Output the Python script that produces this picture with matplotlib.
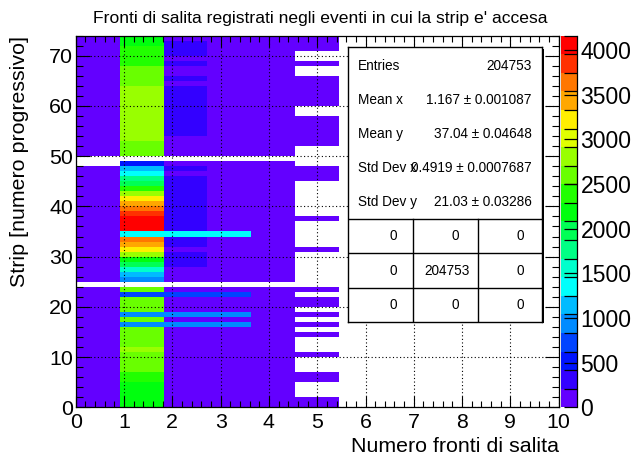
import numpy as np
import matplotlib
matplotlib.use("Agg")
import matplotlib.pyplot as plt
from matplotlib.colors import ListedColormap, BoundaryNorm
from matplotlib.patches import Rectangle
from matplotlib.ticker import MultipleLocator

plt.rcParams['font.family'] = ['Liberation Sans', 'DejaVu Sans']

W, H = 638, 459

# ---------------------------------------------------------------- data
title = "Fronti di salita registrati negli eventi in cui la strip e' accesa"
x_title = "Numero fronti di salita"
y_title = "Strip [numero progressivo]"

# binning: 11 bins on x over [0, 10], one bin per strip on y over [0, 74]
x_edges = np.linspace(0, 10, 12)
y_edges = np.arange(0, 75)

_ = None  # empty bin
# counts per strip (strip 0 first) for each rising-edge bin
counts_bin0 = [60, 58, 61, 60, 59, 62, 60, 57, 60, 61,
               59, 60, 62, 58, 60, 61, 60, 59, 60, 62,
               61, 60, 58, 60, _, 61, 60, 59, 62, 60,
               60, 58, 61, 60, 59, 60, 62, 60, 58, 61,
               60, 59, 61, 60, 62, 58, 60, 61, _, _,
               60, 61, 59, 60, 62, 60, 58, 61, 60, 59,
               61, 60, 58, 62, 60, 59, 61, 60, 60, 58,
               61, 60, 59, 62]
counts_bin1 = [2180, 2200, 2170, 2150, 2210, 2390, 2420, 2600, 2620, 2580,
               2640, 2810, 2590, 2610, 2570, 2630, 950, 2600, 940, 2590,
               2620, 2610, 720, 2580, _, 930, 1150, 1560, 1980, 2190,
               2810, 3220, 3430, 3640, 1350, 4050, 4160, 4080, 3850, 3640,
               3430, 3220, 2810, 2390, 1980, 1770, 1350, 1150, 520, _,
               2600, 2610, 2620, 2800, 2820, 2790, 2810, 2830, 2800, 2780,
               2810, 2800, 2790, 2820, 2600, 2610, 2590, 2620, 2390, 2400,
               2380, 2410, 2190, 2200]
counts_bin2 = [72, 68, 75, 70, 66, 71, 69, 73, 70, 68,
               70, 71, 69, 72, 70, 68, 950, 75, 960, 70,
               72, 69, 710, 74, _, 71, 73, 70, 310, 320,
               305, 80, 315, 300, 1340, 330, 340, 335, 325, 320,
               330, 315, 320, 310, 305, 300, 90, 290, 85, _,
               80, 82, 85, 90, 280, 300, 310, 305, 300, 295,
               290, 300, 295, 285, 95, 270, 100, 95, 260, 110,
               265, 270, 260, 120]
counts_bin3 = [40, 42, 38, 41, 40, 39, 43, 40, 41, 38,
               40, 42, 39, 41, 40, 38, 955, 41, 945, 40,
               39, 42, 715, 40, _, 41, 40, 38, 42, 39,
               40, 41, 43, 39, 1345, 40, 42, 41, 38, 40,
               39, 41, 40, 42, 38, 40, 41, 39, 40, _,
               41, 40, 39, 42, 40, 38, 41, 40, 39, 42,
               40, 41, 38, 40, 42, 39, 41, 40, 38, 40,
               41, 39, 42, 40]
counts_bin4 = [20, 21, 19, 22, 20, 18, 21, 20, 19, 22,
               20, 21, 18, 20, 22, 19, 20, 21, 20, 18,
               22, 20, 19, 21, _, 20, 18, 21, 20, 22,
               19, 20, 21, 18, 20, 22, 19, 21, 20, 20,
               18, 21, 22, 19, 20, 21, 20, 18, 21, _,
               20, 19, 22, 20, 21, 18, 20, 21, 19, 22,
               20, 20, 18, 21, 19, 22, 20, 21, 20, 18,
               21, 20, 19, 22]
counts_bin5 = [8, 7, _, _, _, 9, 8, _, _, _,
               7, _, _, _, 8, _, 9, _, 8, _,
               7, 8, _, 9, _, _, _, _, _, _,
               _, 8, _, _, _, _, _, 7, _, _,
               _, _, _, _, _, 8, 9, 7, _, _,
               _, _, 8, 7, 9, 8, 8, 7, _, _,
               8, 9, 7, 8, 8, 9, _, _, 7, _,
               _, 8, 9, 8]
filled_bins = [counts_bin0, counts_bin1, counts_bin2,
               counts_bin3, counts_bin4, counts_bin5]

stat_names = ["Entries", "Mean x", "Mean y", "Std Dev x", "Std Dev y"]
stat_values = ["204753", "1.167 \u00b1 0.001087", "37.04 \u00b1 0.04648",
               "0.4919 \u00b1 0.0007687", "21.03 \u00b1 0.03286"]
# under/overflow table of the stats box (rows top to bottom)
flow_table = [[0, 0, 0],
              [0, 204753, 0],
              [0, 0, 0]]

z_ticks = [0, 500, 1000, 1500, 2000, 2500, 3000, 3500, 4000]

# 20-level rainbow palette (violet -> red)
palette = ["#6300ff", "#3300ff", "#0014ff", "#0044ff", "#008bff",
           "#00bbff", "#00fffc", "#00ffcc", "#00ff85", "#00ff55",
           "#00ff0e", "#22ff00", "#69ff00", "#99ff00", "#e0ff00",
           "#ffee00", "#ffa700", "#ff7700", "#ff3000", "#ff0000"]

# ---------------------------------------------------------------- grid
n_y = len(y_edges) - 1
n_x = len(x_edges) - 1
Z = np.full((n_y, n_x), np.nan)
for i, col in enumerate(filled_bins):
    Z[:, i] = [np.nan if v is None else v for v in col]
Zm = np.ma.masked_invalid(Z)

zmax = np.nanmax(Z)
cmap = ListedColormap(palette)
cmap.set_over(palette[-1])
cmap.set_bad((1, 1, 1, 0))
norm = BoundaryNorm(np.linspace(0, zmax, len(palette) + 1), len(palette))


def fx(x):
    return x / W


def fy(y):
    return 1 - y / H


fig = plt.figure(figsize=(W / 100, H / 100), dpi=100)
fig.patch.set_facecolor('white')

ax_l, ax_r, ax_t, ax_b = 75.7, 558.7, 35.6, 407.3
ax = fig.add_axes([fx(ax_l), fy(ax_b), fx(ax_r) - fx(ax_l), fy(ax_t) - fy(ax_b)])
mesh = ax.pcolormesh(x_edges, y_edges, Zm, cmap=cmap, norm=norm,
                     shading='flat', antialiased=False, edgecolors='none')
ax.set_xlim(x_edges[0], x_edges[-1])
ax.set_ylim(y_edges[0], y_edges[-1])

ax.xaxis.set_major_locator(MultipleLocator(1))
ax.xaxis.set_minor_locator(MultipleLocator(0.2))
ax.yaxis.set_major_locator(MultipleLocator(10))
ax.yaxis.set_minor_locator(MultipleLocator(2))
ax.tick_params(axis='x', which='major', direction='in', length=7.9, width=0.8,
               top=True, bottom=True, labelsize=15.4, pad=4.0)
ax.tick_params(axis='x', which='minor', direction='in', length=4.0, width=0.8,
               top=True, bottom=True)
ax.tick_params(axis='y', which='major', direction='in', length=10.4, width=0.8,
               left=True, right=True, labelsize=15.4, pad=1.7)
ax.tick_params(axis='y', which='minor', direction='in', length=5.2, width=0.8,
               left=True, right=True)
for s in ax.spines.values():
    s.set_linewidth(0.9)
ax.grid(True, which='major', color='black', linestyle=(0, (1, 2.2)),
        linewidth=0.8)

# palette axis
cax = fig.add_axes([fx(561), fy(ax_b), fx(577) - fx(561), fy(ax_t) - fy(ax_b)])
cb = fig.colorbar(mesh, cax=cax, ticks=z_ticks)
cb.outline.set_visible(False)
cax.tick_params(axis='y', which='both', direction='in', length=9.5, width=0.9,
                right=True, left=False, labelsize=16.5, pad=2.5)
cax.plot([1, 1], [0, 1], transform=cax.transAxes, color='black', lw=0.9,
         clip_on=False)

# titles
fig.text(fx(320), fy(18), title, ha='center', va='center', fontsize=12.6)
fig.text(fx(ax_r), fy(452), x_title, ha='right', va='baseline', fontsize=15.4)
fig.text(fx(20), fy(ax_t), y_title, ha='center', va='top', rotation=90,
         fontsize=15.4)

# statistics box
bx0, by0, bx1, by1 = 348.3, 47.3, 542.3, 321.7
shadow = Rectangle((fx(bx0) + 1.5 / W, fy(by1) - 1.5 / H),
                   fx(bx1) - fx(bx0), fy(by0) - fy(by1),
                   transform=fig.transFigure, facecolor='black',
                   edgecolor='none', zorder=4)
fig.add_artist(shadow)
sax = fig.add_axes([fx(bx0), fy(by1), fx(bx1) - fx(bx0), fy(by0) - fy(by1)],
                   zorder=5)
sax.set_xlim(bx0, bx1)
sax.set_ylim(by1, by0)
sax.set_xticks([])
sax.set_yticks([])
sax.set_facecolor('white')
for s in sax.spines.values():
    s.set_linewidth(1.0)

row_y = [65.7, 100.0, 134.0, 168.3, 202.3]
for name, val, yy in zip(stat_names, stat_values, row_y):
    sax.text(357.7, yy, name, ha='left', va='center', fontsize=9.8)
    sax.text(531.7, yy, val, ha='right', va='center', fontsize=9.8)

sep_y = [219.0, 253.3, 287.7]
for yy in sep_y:
    sax.plot([bx0, bx1], [yy, yy], color='black', lw=1.0)
for xx in [412.7, 477.7]:
    sax.plot([xx, xx], [sep_y[0], by1], color='black', lw=1.0)

cell_y = [236.3, 270.6, 305.0]
cell_x = [393.3, 455.7, 520.7]
for r, row in enumerate(flow_table):
    for c, v in enumerate(row):
        xx = cell_x[c]
        if v != 0:
            xx = 446.7
        sax.text(xx, cell_y[r], str(v), ha='center', va='center', fontsize=9.8)

fig.savefig("out.png", dpi=100, facecolor='white')
